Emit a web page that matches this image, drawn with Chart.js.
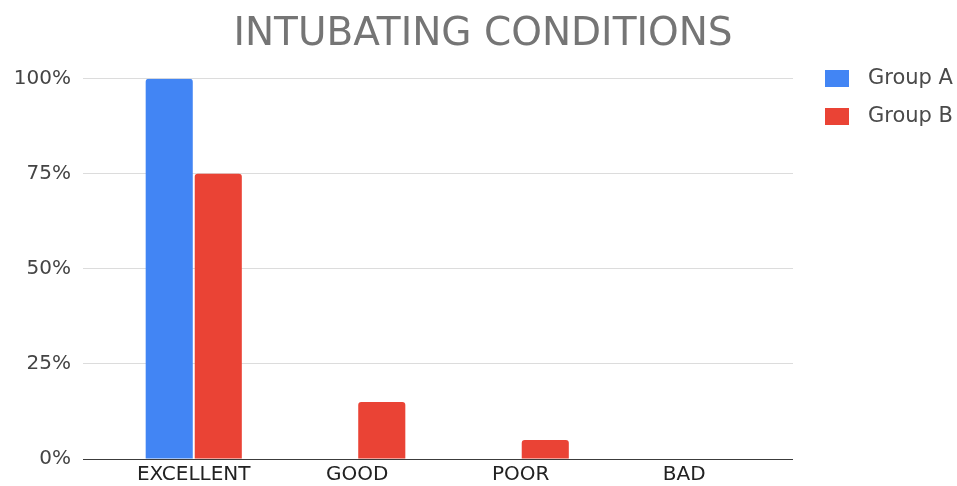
<!DOCTYPE html>
<html>
<head>
<meta charset="utf-8">
<script src="https://cdn.jsdelivr.net/npm/chart.js@4/dist/chart.umd.min.js"></script>
<style>
  html, body { margin: 0; padding: 0; background: #fff; }
  #wrap { width: 957px; height: 486px; }
</style>
</head>
<body>
<div id="wrap"><canvas id="c" width="957" height="486"></canvas></div>
<script>
// Intubating conditions by group (percentage of patients)
const categories = ['EXCELLENT', 'GOOD', 'POOR', 'BAD'];
const groupA = [100, 0, 0, 0];
const groupB = [75, 15, 5, 0];
const seriesNames = ['Group A', 'Group B'];
const yTicks = [0, 25, 50, 75, 100];

const BLUE = '#4285F4';
const RED = '#EA4335';

Chart.defaults.font.family = "'DejaVu Sans', sans-serif";

const gridColor = (ctx) => (ctx.tick && ctx.tick.value === 0) ? '#3c3c3c' : '#dcdcdc';

// Legend in the right margin, built from the datasets
const sideLegend = {
  id: 'sideLegend',
  afterDraw(chart) {
    const ctx = chart.ctx;
    ctx.save();
    ctx.font = "21px 'DejaVu Sans', sans-serif";
    ctx.textBaseline = 'middle';
    ctx.textAlign = 'left';
    chart.data.datasets.forEach((ds, i) => {
      const top = 70 + i * 38;
      ctx.fillStyle = ds.backgroundColor;
      ctx.fillRect(825, top, 24, 17);
      ctx.fillStyle = '#4a4a4a';
      ctx.fillText(ds.label, 868, top + 9);
    });
    ctx.restore();
  }
};

new Chart(document.getElementById('c'), {
  type: 'bar',
  data: {
    labels: categories,
    datasets: [
      { label: seriesNames[0], data: groupA, backgroundColor: BLUE,
        borderRadius: 3, categoryPercentage: 0.6, barPercentage: 0.96 },
      { label: seriesNames[1], data: groupB, backgroundColor: RED,
        borderRadius: 3, categoryPercentage: 0.6, barPercentage: 0.96 }
    ]
  },
  options: {
    responsive: false,
    animation: false,
    layout: { padding: { left: 9, right: 0, top: 0, bottom: 0 } },
    plugins: {
      legend: { display: false },
      tooltip: { enabled: false },
      title: {
        display: true,
        text: 'INTUBATING CONDITIONS',
        color: '#757575',
        font: { size: 39, weight: 'normal' },
        padding: { top: 11, bottom: 21 }
      }
    },
    scales: {
      x: {
        grid: { display: false, drawTicks: false },
        border: { display: false },
        ticks: { color: '#222', font: { size: 20 }, padding: 4, maxRotation: 0 },
        afterFit(scale) { scale.height = 27; }
      },
      y: {
        min: 0, max: 100,
        afterBuildTicks(scale) { scale.ticks = yTicks.map(v => ({ value: v })); },
        border: { display: false },
        grid: { color: gridColor, tickLength: 29, lineWidth: 1 },
        ticks: { color: '#444', font: { size: 20 }, padding: 12,
                 callback: (v) => v + '%' },
        afterFit(scale) { scale.width = 103; }
      },
      y2: {
        position: 'right',
        min: 0, max: 100,
        afterBuildTicks(scale) { scale.ticks = yTicks.map(v => ({ value: v })); },
        border: { display: false },
        grid: { color: gridColor, tickLength: 27, drawOnChartArea: false, lineWidth: 1 },
        ticks: { display: false },
        afterFit(scale) { scale.width = 191; }
      }
    }
  },
  plugins: [sideLegend]
});
</script>
</body>
</html>
